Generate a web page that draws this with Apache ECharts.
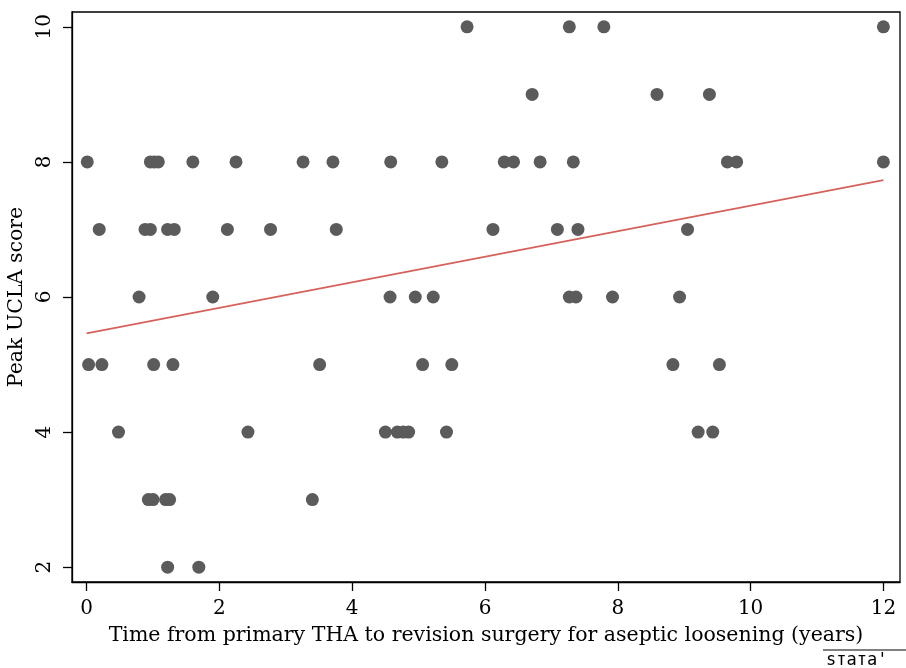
<!DOCTYPE html>
<html>
<head>
<meta charset="utf-8">
<script src="https://cdn.jsdelivr.net/npm/echarts@6/dist/echarts.min.js"></script>
<style>html,body{margin:0;padding:0;background:#fff;}#chart{width:906px;height:668px;}</style>
</head>
<body>
<div id="chart"></div>
<script>
// Time from primary THA to revision (years) and Peak UCLA score, paired
const timeYears = [
  5.73, 7.27, 7.79, 12.0,
  6.71, 8.59, 9.38,
  0.01, 0.96, 1.02, 1.08, 1.60, 2.25, 3.26, 3.71, 4.58, 5.35, 6.29, 6.43, 6.83, 7.33, 9.65, 9.79, 12.0,
  0.19, 0.88, 0.96, 1.22, 1.32, 2.12, 2.77, 3.76, 6.12, 7.09, 7.40, 9.05,
  0.79, 1.90, 4.57, 4.95, 5.22, 7.27, 7.37, 7.92, 8.93,
  0.03, 0.23, 1.01, 1.30, 3.51, 5.06, 5.50, 8.83, 9.53,
  0.48, 2.43, 4.50, 4.68, 4.77, 4.85, 5.42, 9.21, 9.43,
  0.93, 1.00, 1.19, 1.25, 3.40,
  1.22, 1.69
];
const peakUcla = [
  10, 10, 10, 10,
  9, 9, 9,
  8, 8, 8, 8, 8, 8, 8, 8, 8, 8, 8, 8, 8, 8, 8, 8, 8,
  7, 7, 7, 7, 7, 7, 7, 7, 7, 7, 7, 7,
  6, 6, 6, 6, 6, 6, 6, 6, 6,
  5, 5, 5, 5, 5, 5, 5, 5, 5,
  4, 4, 4, 4, 4, 4, 4, 4, 4,
  3, 3, 3, 3, 3,
  2, 2
];
// Fitted linear regression line endpoints
const fitX = [0.0, 12.0];
const fitY = [5.46, 7.73];
const xTicks = [0, 2, 4, 6, 8, 10, 12];
const yTicks = [2, 4, 6, 8, 10];

const scatterData = timeYears.map((t, i) => [t, peakUcla[i]]);
const fitData = fitX.map((x, i) => [x, fitY[i]]);

const serif = '"DejaVu Serif", "Liberation Serif", serif';
const chart = echarts.init(document.getElementById('chart'));
chart.setOption({
  backgroundColor: '#ffffff',
  animation: false,
  grid: {left: 72, right: 6, top: 12, bottom: 86, containLabel: false, outerBoundsMode: 'none',
         show: true, borderColor: '#000', borderWidth: 1.3, backgroundColor: 'transparent'},
  xAxis: {
    type: 'value', min: -0.22, max: 12.25,
    name: 'Time from primary THA to revision surgery for aseptic loosening (years)',
    nameLocation: 'middle', nameGap: 43,
    nameTextStyle: {fontFamily: serif, fontSize: 20.5, color: '#000'},
    axisLine: {show: true, onZero: false, lineStyle: {color: '#000', width: 1.3}},
    axisTick: {show: true, length: 9, customValues: xTicks, lineStyle: {color: '#000', width: 1.3}},
    axisLabel: {customValues: xTicks, fontFamily: serif, fontSize: 20, color: '#000', margin: 17},
    splitLine: {show: false}
  },
  yAxis: {
    type: 'value', min: 1.78, max: 10.22,
    name: 'Peak UCLA score',
    nameLocation: 'middle', nameGap: 42,
    nameTextStyle: {fontFamily: serif, fontSize: 20.5, color: '#000'},
    axisLine: {show: true, onZero: false, lineStyle: {color: '#000', width: 1.3}},
    axisTick: {show: true, length: 9, customValues: yTicks, lineStyle: {color: '#000', width: 1.3}},
    axisLabel: {customValues: yTicks, rotate: 90, fontFamily: serif, fontSize: 20, color: '#000', margin: 17},
    splitLine: {show: false}
  },
  series: [
    {
      type: 'scatter', data: scatterData, symbol: 'circle', symbolSize: 13,
      itemStyle: {color: '#5b5b5b', opacity: 1}, z: 3
    },
    {
      type: 'line', data: fitData, symbol: 'none',
      lineStyle: {color: '#d6625c', width: 1.8}, z: 4
    }
  ],
  graphic: [
    {type: 'line', shape: {x1: 823, y1: 650, x2: 906, y2: 650}, style: {stroke: '#000', lineWidth: 1.2}},
    {type: 'text', left: 826, top: 652, style: {text: 'sтатa\'', fontFamily: '"DejaVu Sans Mono"', fontSize: 17, fill: '#000'}}
  ]
});
</script>
</body>
</html>
